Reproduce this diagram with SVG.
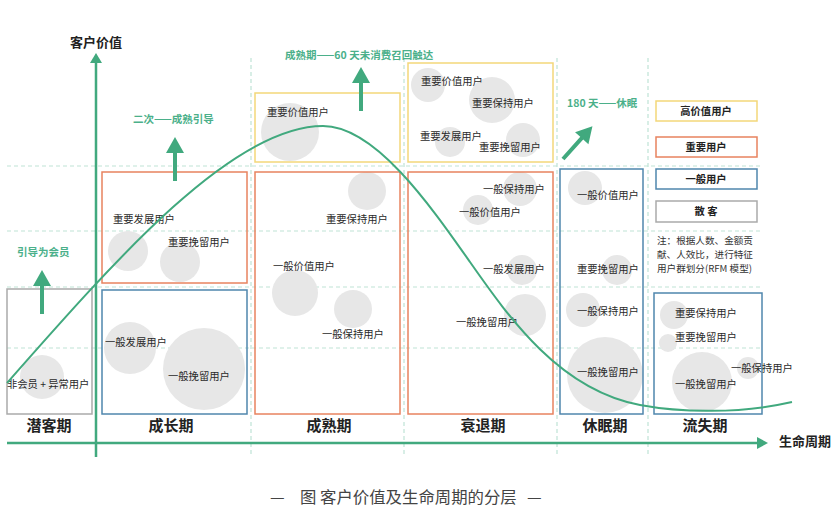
<svg xmlns="http://www.w3.org/2000/svg" width="839" height="514" viewBox="0 0 839 514">
<style>
text{font-family:"Noto Sans CJK SC","Noto Sans",sans-serif;fill:#2a2a2a}
.t{font-size:10.3px}
.st{font-size:15px;font-weight:bold;fill:#222;text-anchor:middle}
.ax{font-size:13px;font-weight:bold;fill:#222}
.g{font-size:10.5px;font-weight:bold;fill:#4bb08a}
.lg{font-size:10.3px;font-weight:bold;fill:#222;text-anchor:middle}
.note{font-size:9.6px;fill:#333}
.cap{font-size:16.4px;fill:#444}
.dash{stroke:#bfe3d6;stroke-width:1.2;stroke-dasharray:4 3;fill:none}
.c{fill:#e7e7e7}
.by{fill:none;stroke:#f3d77a;stroke-width:1.5}
.bo{fill:none;stroke:#e8835f;stroke-width:1.5}
.bb{fill:none;stroke:#4f86ad;stroke-width:1.5}
.bg{fill:none;stroke:#aaaaaa;stroke-width:1.5}
.ar{fill:#41a97e}
</style>
<defs>
<path id="fat" d="M-2,0 L-2,-28 L-9,-28 L0,-44 L9,-28 L2,-28 L2,0 Z"/>
</defs>
<rect width="839" height="514" fill="#fff"/>
<g id="grid">
<line class="dash" x1="7" y1="166" x2="762" y2="166"/>
<line class="dash" x1="7" y1="231" x2="762" y2="231"/>
<line class="dash" x1="7" y1="287" x2="762" y2="287"/>
<line class="dash" x1="7" y1="348" x2="762" y2="348"/>
<line class="dash" x1="251" y1="58" x2="251" y2="457"/>
<line class="dash" x1="404" y1="58" x2="404" y2="457"/>
<line class="dash" x1="557" y1="58" x2="557" y2="457"/>
<line class="dash" x1="648" y1="58" x2="648" y2="457"/>
</g>
<g id="circles">
<circle class="c" cx="42" cy="377" r="22"/>
<circle class="c" cx="128" cy="251" r="20"/>
<circle class="c" cx="180" cy="262" r="20"/>
<circle class="c" cx="130" cy="348" r="26"/>
<circle class="c" cx="204" cy="369" r="41"/>
<circle class="c" cx="290" cy="132" r="29"/>
<circle class="c" cx="367" cy="191" r="19"/>
<circle class="c" cx="295" cy="293" r="23"/>
<circle class="c" cx="353" cy="309" r="19"/>
<circle class="c" cx="428" cy="85" r="17"/>
<circle class="c" cx="492" cy="100" r="23"/>
<circle class="c" cx="450" cy="142" r="15"/>
<circle class="c" cx="523" cy="140" r="17"/>
<circle class="c" cx="520" cy="189" r="17"/>
<circle class="c" cx="478" cy="210" r="15"/>
<circle class="c" cx="522" cy="270" r="15"/>
<circle class="c" cx="525" cy="315" r="21"/>
<circle class="c" cx="585" cy="188" r="17"/>
<circle class="c" cx="617" cy="270" r="15"/>
<circle class="c" cx="583" cy="310" r="17"/>
<circle class="c" cx="605" cy="375" r="38"/>
<circle class="c" cx="674" cy="315" r="14"/>
<circle class="c" cx="668" cy="343" r="9"/>
<circle class="c" cx="702" cy="382" r="30"/>
<circle class="c" cx="748" cy="368" r="11"/>
</g>
<g id="stage-qianke">
<rect class="bg" x="7" y="289" width="85" height="125"/>
<text class="t" x="7" y="388">非会员 + 异常用户</text>
<text class="st" x="49" y="431">潜客期</text>
</g>
<g id="stage-chengzhang">
<rect class="bo" x="102" y="172" width="145" height="111"/>
<rect class="bb" x="102" y="290" width="145" height="124"/>
<text class="t" x="113" y="223">重要发展用户</text>
<text class="t" x="168" y="246">重要挽留用户</text>
<text class="t" x="105" y="346">一般发展用户</text>
<text class="t" x="168" y="380">一般挽留用户</text>
<text class="st" x="171" y="431">成长期</text>
</g>
<g id="stage-chengshu">
<rect class="by" x="255" y="93" width="145" height="69"/>
<rect class="bo" x="255" y="172" width="145" height="242"/>
<text class="t" x="267" y="116">重要价值用户</text>
<text class="t" x="326" y="223">重要保持用户</text>
<text class="t" x="273" y="270">一般价值用户</text>
<text class="t" x="322" y="338">一般保持用户</text>
<text class="st" x="329" y="431">成熟期</text>
</g>
<g id="stage-shuaitui">
<rect class="by" x="408" y="63" width="145" height="99"/>
<rect class="bo" x="408" y="172" width="145" height="242"/>
<text class="t" x="421" y="85">重要价值用户</text>
<text class="t" x="472" y="107">重要保持用户</text>
<text class="t" x="420" y="140">重要发展用户</text>
<text class="t" x="479" y="151">重要挽留用户</text>
<text class="t" x="483" y="193">一般保持用户</text>
<text class="t" x="459" y="216">一般价值用户</text>
<text class="t" x="483" y="273">一般发展用户</text>
<text class="t" x="456" y="326">一般挽留用户</text>
<text class="st" x="483" y="431">衰退期</text>
</g>
<g id="stage-xiumian">
<rect class="bb" x="560" y="169" width="83" height="245"/>
<text class="t" x="577" y="199">一般价值用户</text>
<text class="t" x="577" y="273">重要挽留用户</text>
<text class="t" x="577" y="315">一般保持用户</text>
<text class="t" x="577" y="376">一般挽留用户</text>
<text class="st" x="605" y="431">休眠期</text>
</g>
<g id="stage-liushi">
<rect class="bb" x="654" y="293" width="108" height="121"/>
<text class="t" x="675" y="317">重要保持用户</text>
<text class="t" x="675" y="341">重要挽留用户</text>
<text class="t" x="731" y="372">一般保持用户</text>
<text class="t" x="675" y="388">一般挽留用户</text>
<text class="st" x="705" y="431">流失期</text>
</g>
<g id="legend">
<rect class="by" x="656" y="101" width="101" height="20"/>
<text class="lg" x="706" y="115">高价值用户</text>
<rect class="bo" x="656" y="137" width="101" height="20"/>
<text class="lg" x="706" y="151">重要用户</text>
<rect class="bb" x="656" y="169" width="101" height="20"/>
<text class="lg" x="706" y="183">一般用户</text>
<rect class="bg" x="656" y="201" width="101" height="21"/>
<text class="lg" x="706" y="215">散 客</text>
<text class="note" x="657" y="244">注：根据人数、金额贡</text>
<text class="note" x="657" y="258">献、人效比，进行特征</text>
<text class="note" x="657" y="272">用户群划分(RFM 模型)</text>
</g>
<g id="connectors">
<path d="M7,383 C117,258 233,126 323,126 C375,126 430,205 470,262 C510,319 560,390 640,405 C680,412.5 740,414 792,402" fill="none" stroke="#41a97e" stroke-width="2"/>
<line x1="96" y1="62" x2="96" y2="457" stroke="#41a97e" stroke-width="2.5"/>
<polygon points="90,63 102,63 96,53" fill="#41a97e"/>
<line x1="7" y1="443" x2="758" y2="443" stroke="#41a97e" stroke-width="2.5"/>
<polygon points="757,437 757,449 768,443" fill="#41a97e"/>
<use href="#fat" class="ar" transform="translate(42,314)"/>
<use href="#fat" class="ar" transform="translate(175,181)"/>
<use href="#fat" class="ar" transform="translate(361,111)"/>
<use href="#fat" class="ar" transform="translate(563,159) rotate(42)"/>
</g>
<g id="labels">
<text class="ax" x="70" y="47">客户价值</text>
<text class="ax" x="779" y="446">生命周期</text>
<text class="g" x="17" y="256">引导为会员</text>
<text class="g" x="133" y="123">二次——成熟引导</text>
<text class="g" x="285" y="59">成熟期——60 天未消费召回触达</text>
<text class="g" x="567" y="107">180 天——休眠</text>
<text class="cap" x="270" y="503">—</text>
<text class="cap" x="300" y="503">图 客户价值及生命周期的分层</text>
<text class="cap" x="527" y="503">—</text>
</g>
</svg>
